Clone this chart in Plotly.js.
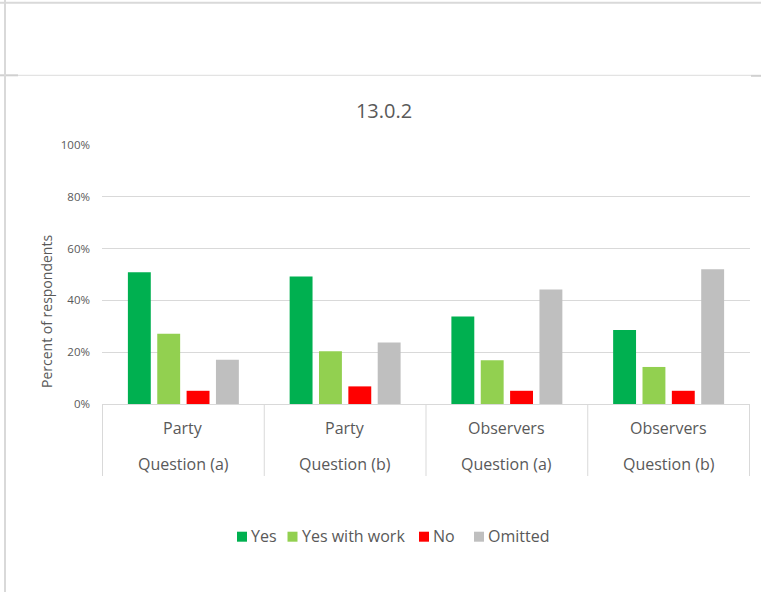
<!DOCTYPE html>
<html><head><meta charset="utf-8">
<script src="https://cdn.plot.ly/plotly-3.0.1.min.js"></script>
<style>html,body{margin:0;padding:0;background:#fff;overflow:hidden}#chart{width:761px;height:592px}</style>
</head><body><div id="chart"></div>
<script>
// ---- data ----
const groupLabels = ["Party", "Party", "Observers", "Observers"];
const questionLabels = ["Question (a)", "Question (b)", "Question (a)", "Question (b)"];
const seriesNames = ["Yes", "Yes with work", "No", "Omitted"];
const yesValues = [0.509, 0.492, 0.338, 0.286];
const yesWithWorkValues = [0.271, 0.204, 0.169, 0.143];
const noValues = [0.051, 0.068, 0.051, 0.051];
const omittedValues = [0.171, 0.237, 0.442, 0.520];
const seriesColors = ["#00B050", "#92D050", "#FF0000", "#BFBFBF"];
const yTickValues = [0, 0.2, 0.4, 0.6, 0.8, 1.0];
const chartTitle = "13.0.2";
const yAxisTitle = "Percent of respondents";

// ---- layout geometry (pixels) ----
const W = 761, H = 592;
const L = 102, R = 750, T = 145, B = 404;
const px2x = p => (p - L) / (R - L);
const py2y = p => (B - p) / (B - T);
const textColor = "#595959";
const lineColor = "#D9D9D9";
const FONT = "Open Sans, DejaVu Sans, sans-serif";

const categories = groupLabels.map((g, i) => g + " · " + questionLabels[i]);
const allValues = [yesValues, yesWithWorkValues, noValues, omittedValues];

const traces = seriesNames.map((name, k) => ({
  type: "bar",
  name: name,
  x: categories,
  y: allValues[k],
  marker: { color: seriesColors[k], line: { width: 0 } },
  hoverinfo: "skip"
}));

const shapes = [];
const annotations = [];

// worksheet/frame lines around the chart object
function hline(y, x0, x1, color, width) {
  shapes.push({ type: "line", xref: "paper", yref: "paper", layer: "below",
    x0: px2x(x0), x1: px2x(x1), y0: py2y(y), y1: py2y(y), line: { color: color, width: width } });
}
hline(2.7, 0, W, "#D9D9D9", 2);
hline(75.3, 0, 18, "#D0D0D0", 2);
hline(75.3, 18, 751, "#DCDCDC", 1);
hline(75.8, 751, W, "#D0D0D0", 2);
shapes.push({ type: "line", xref: "paper", yref: "paper", layer: "below",
  x0: px2x(5), x1: px2x(5), y0: py2y(0), y1: py2y(H), line: { color: "#D9D9D9", width: 2 } });

// category dividers (multi-level axis)
for (let i = 0; i <= categories.length; i++) {
  shapes.push({ type: "line", xref: "x", yref: "paper",
    x0: i - 0.5, x1: i - 0.5, y0: 0, y1: py2y(476), line: { color: lineColor, width: 1 } });
}
// two-level category labels
categories.forEach((c, i) => {
  annotations.push({ xref: "x", yref: "paper", x: i, y: py2y(428), yanchor: "middle", xanchor: "center",
    text: groupLabels[i], showarrow: false, font: { family: FONT, size: 16, color: textColor } });
  annotations.push({ xref: "x", yref: "paper", x: i, y: py2y(464), yanchor: "middle", xanchor: "center",
    text: questionLabels[i], showarrow: false, font: { family: FONT, size: 16, color: textColor } });
});

// y-axis title
annotations.push({ xref: "paper", yref: "paper", x: px2x(46), y: py2y(312), xanchor: "center", yanchor: "middle",
  textangle: -90, text: yAxisTitle, showarrow: false, font: { family: FONT, size: 14, color: textColor } });

// legend
const legendX = [237, 287.5, 419, 474];
const legendY = 536.7;
seriesNames.forEach((name, k) => {
  shapes.push({ type: "rect", xref: "paper", yref: "paper",
    x0: px2x(legendX[k]), x1: px2x(legendX[k] + 10), y0: py2y(legendY - 5), y1: py2y(legendY + 5),
    fillcolor: seriesColors[k], line: { width: 0 } });
  annotations.push({ xref: "paper", yref: "paper", x: px2x(legendX[k] + 12), y: py2y(legendY - 0.5),
    xanchor: "left", yanchor: "middle", text: name, showarrow: false,
    font: { family: FONT, size: 16, color: textColor } });
});

const layout = {
  width: W, height: H,
  margin: { l: L, r: W - R, t: T, b: H - B, pad: 0 },
  paper_bgcolor: "#FFFFFF", plot_bgcolor: "#FFFFFF",
  font: { family: FONT, color: textColor },
  showlegend: false,
  barmode: "group",
  bargap: 0.274,
  bargroupgap: 0.22,
  title: { text: chartTitle, font: { family: FONT, size: 20, color: textColor },
    xref: "container", x: 384 / W, xanchor: "center",
    yref: "container", y: 1 - 111 / H, yanchor: "middle" },
  xaxis: { type: "category", categoryorder: "array", categoryarray: categories,
    showticklabels: false, ticks: "", showgrid: false, zeroline: false,
    showline: true, linecolor: lineColor, linewidth: 1, fixedrange: true },
  yaxis: { range: [0, 1], tickvals: yTickValues, tickformat: ".0%",
    showgrid: true, gridcolor: lineColor, gridwidth: 1, zeroline: false, showline: false,
    ticks: "", ticklabelstandoff: 11, tickfont: { family: FONT, size: 11.5, color: textColor }, fixedrange: true },
  shapes: shapes,
  annotations: annotations
};

Plotly.newPlot("chart", traces, layout, { displayModeBar: false, staticPlot: true });
</script>
</body></html>
